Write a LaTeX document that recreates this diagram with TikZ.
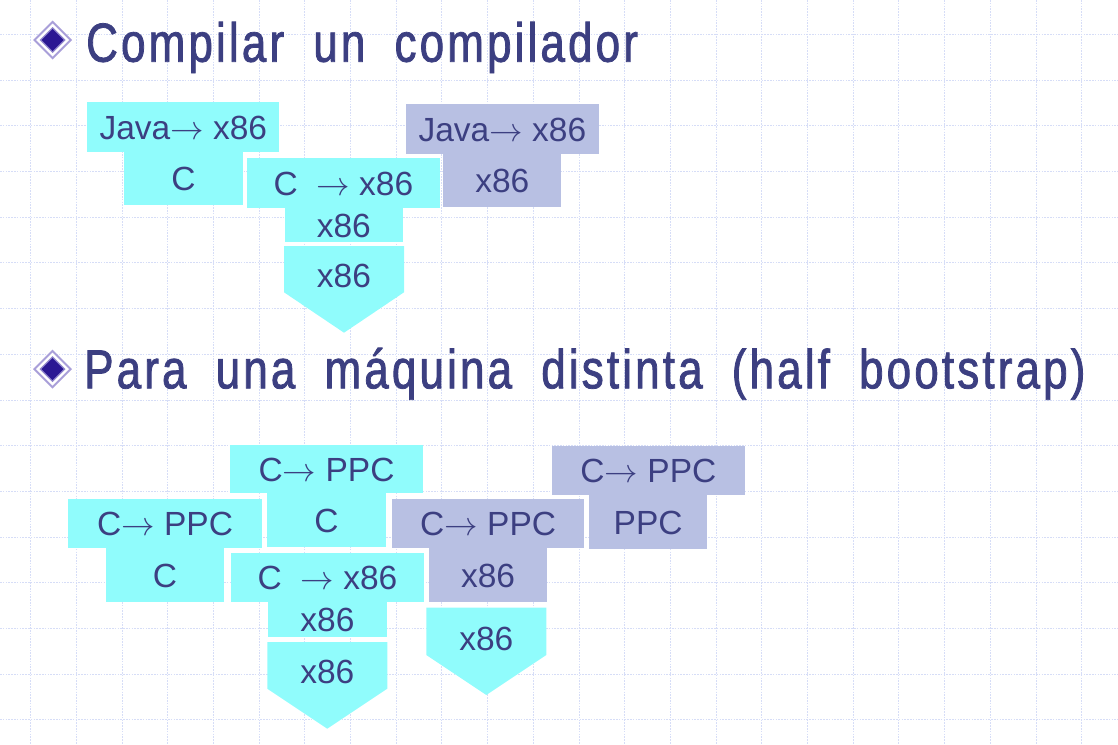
\documentclass[tikz,border=0pt]{standalone}
\usepackage{fontspec}
\setmainfont{Liberation Sans}
\newfontfamily\ttlfamily[FakeStretch=0.8,LetterSpace=5.7,WordSpace=1.9,FakeBold=1.4]{Liberation Sans}
\newcommand{\ttlfont}{\ttlfamily\fontsize{55pt}{60pt}\selectfont}
\newcommand{\bxfont}{\fontsize{33.5pt}{40pt}\selectfont}
% long thin arrow: a 10pt math arrow scaled up to the box text size
\newcommand{\arr}{\scalebox{3.35}{\fontsize{10pt}{12pt}\selectfont$\rightarrow$}}

\definecolor{ink}{HTML}{3C3F81}
\definecolor{aqua}{HTML}{90FCFC}
\definecolor{lavgray}{HTML}{B8C0E3}
\definecolor{gridblue}{HTML}{D6DDF7}
\definecolor{bulletedge}{HTML}{A99FD9}
\definecolor{bulletrim}{HTML}{8F84CC}
\definecolor{bulletcore}{HTML}{2B1893}

\begin{document}
\begin{tikzpicture}[x=1pt,y=-1pt,
  gridline/.style={draw=gridblue, line width=0.8pt, dash pattern=on 1.6pt off 1.2pt},
  box/.style={inner sep=0pt, outer sep=0pt, text=ink, font=\bxfont,
              text height=24pt, text depth=0pt, align=center},
  cyanbox/.style={box, fill=aqua},
  graybox/.style={box, fill=lavgray},
  pentagon/.style={fill=aqua},
  pentlabel/.style={anchor=base, inner sep=0pt, text=ink, font=\bxfont},
  heading/.style={anchor=base west, inner sep=0pt, text=ink, font=\ttlfont}
]
\useasboundingbox (0,0) rectangle (1118,744);

% background grid
\foreach \k in {0,...,23}
  \draw[gridline] (30.5+45.7*\k,0) -- (30.5+45.7*\k,744);
\foreach \k in {0,...,15}
  \draw[gridline] (0,34.3+45.7*\k) -- (1118,34.3+45.7*\k);

% bullets
\foreach \cx/\cy in {52.7/40, 52.5/369}{
  \begin{scope}[shift={(\cx,\cy)}]
    \fill[bulletedge] (-19.5,0) -- (0,-19.5) -- (19.5,0) -- (0,19.5) -- cycle;
    \fill[white] (-16.5,0) -- (0,-16.5) -- (16.5,0) -- (0,16.5) -- cycle;
    \fill[bulletrim] (-13,0) -- (0,-13) -- (13,0) -- (0,13) -- cycle;
    \fill[bulletcore] (-11,0) -- (0,-11) -- (11,0) -- (0,11) -- cycle;
  \end{scope}
}

% headings
\node[heading] (h1) at (86,61.7) {Compilar un compilador};
\node[heading] (h2) at (84,388.3) {Para una máquina distinta (half bootstrap)};

% --- compiling the compiler ---
\node[cyanbox, minimum width=192pt, minimum height=49.4pt] (javaT) at (183.3,127) {Java\arr{} x86};
\node[cyanbox, minimum width=118.4pt, minimum height=53.3pt] (javaL) at (183.5,178.35) {C};
\node[cyanbox, minimum width=193.3pt, minimum height=49.4pt] (ccT) at (343.35,183) {C~~\arr{} x86};
\node[cyanbox, minimum width=118.3pt, minimum height=34.6pt] (ccL) at (343.85,225) {x86};
\fill[pentagon] (284,246) -- (404,246) -- (404,292.3) -- (344,332.7) -- (284,292.3) -- cycle;
\node[pentlabel] (mach1) at (344,287.7) {x86};
\node[graybox, minimum width=192.7pt, minimum height=49.4pt] (outT) at (502.35,129) {Java\arr{} x86};
\node[graybox, minimum width=118pt, minimum height=53pt] (outL) at (502.3,180.2) {x86};

% --- half bootstrap ---
\node[cyanbox, minimum width=193.4pt, minimum height=49pt] (srcT) at (165,523.8) {C\arr{} PPC};
\node[cyanbox, minimum width=118pt, minimum height=53.4pt] (srcL) at (165,575) {C};
\node[cyanbox, minimum width=193pt, minimum height=48.6pt] (selfT) at (326.5,469) {C\arr{} PPC};
\node[cyanbox, minimum width=118.4pt, minimum height=54pt] (selfL) at (326.5,520.3) {C};
\node[cyanbox, minimum width=193pt, minimum height=49pt] (hostT) at (327.5,577.2) {C~~\arr{} x86};
\node[cyanbox, minimum width=118.4pt, minimum height=35pt] (hostL) at (327.5,619.2) {x86};
\fill[pentagon] (267.3,642) -- (387.3,642) -- (387.3,688.7) -- (327.3,728.7) -- (267.3,688.7) -- cycle;
\node[pentlabel] (mach2) at (327.3,683.3) {x86};
\node[graybox, minimum width=192.3pt, minimum height=49pt] (crossT) at (488.15,523.8) {C\arr{} PPC};
\node[graybox, minimum width=118pt, minimum height=53.4pt] (crossL) at (488,575) {x86};
\fill[pentagon] (426.3,607.7) -- (546.3,607.7) -- (546.3,655) -- (486.3,695) -- (426.3,655) -- cycle;
\node[pentlabel] (mach3) at (486.3,650) {x86};
\node[graybox, minimum width=192.7pt, minimum height=49.3pt] (nativeT) at (648.35,470.65) {C\arr{} PPC};
\node[graybox, minimum width=118.3pt, minimum height=53.7pt] (nativeL) at (648.15,522.15) {PPC};
\end{tikzpicture}
\end{document}
